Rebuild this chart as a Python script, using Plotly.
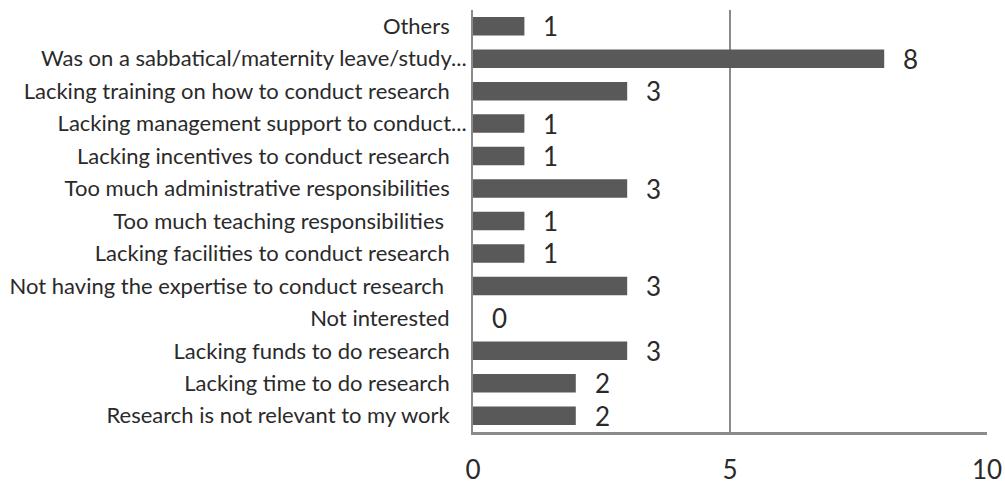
import plotly.graph_objects as go

# Survey reasons, listed bottom to top as they appear on the y axis
reasons = [
    "Research is not relevant to my work",
    "Lacking time to do research",
    "Lacking funds to do research",
    "Not interested",
    "Not having the expertise to conduct research\u00a0",
    "Lacking facilities to conduct research",
    "Too much teaching responsibilities\u00a0",
    "Too much administrative responsibilities",
    "Lacking incentives to conduct research",
    "Lacking management support to conduct...",
    "Lacking training on how to conduct research",
    "Was on a sabbatical/maternity leave/study...",
    "Others",
]
counts = [2, 2, 3, 0, 3, 1, 1, 3, 1, 1, 3, 8, 1]
x_ticks = [0, 5, 10]

LABEL_FONT = "Lato, 'Open Sans', sans-serif"
TEXT_COLOR = "#2a2a2a"
LINE_COLOR = "#8a8a8a"

# Pad the ordinary labels so the truncated ones ("...") sit slightly further right
tick_text = [r if r.endswith("...") else r + "\u00a0\u00a0\u00a0" for r in reasons]

fig = go.Figure()
fig.add_trace(go.Bar(
    x=counts,
    y=list(range(len(reasons))),
    orientation="h",
    width=0.57,
    marker=dict(color="#595959", line=dict(width=0)),
    hoverinfo="skip",
))

for i, v in enumerate(counts):
    fig.add_annotation(
        x=v, y=i, text=str(v), showarrow=False,
        xanchor="left", yanchor="middle", xshift=17,
        font=dict(family=LABEL_FONT, size=26, color=TEXT_COLOR),
    )

fig.update_layout(
    width=1005, height=489,
    autosize=False,
    margin=dict(l=473, r=18, t=10, b=57, pad=0, autoexpand=False),
    paper_bgcolor="white", plot_bgcolor="white",
    showlegend=False,
    xaxis=dict(
        range=[0, 10], tickvals=x_ticks, ticktext=[str(t) for t in x_ticks],
        showgrid=True, gridcolor=LINE_COLOR, gridwidth=2,
        zeroline=False, showline=True, linecolor=LINE_COLOR, linewidth=3,
        ticks="", ticklabelstandoff=13, automargin=False,
        tickfont=dict(family=LABEL_FONT, size=26, color=TEXT_COLOR),
        fixedrange=True,
    ),
    yaxis=dict(
        range=[-0.5, len(reasons) - 0.5],
        tickvals=list(range(len(reasons))), ticktext=tick_text,
        showgrid=False, zeroline=False,
        showline=True, linecolor=LINE_COLOR, linewidth=2,
        ticks="", ticklabelstandoff=0, automargin=False,
        tickfont=dict(family=LABEL_FONT, size=22, color=TEXT_COLOR),
        fixedrange=True,
    ),
)

fig.write_html("out.html", config={"displayModeBar": False})
